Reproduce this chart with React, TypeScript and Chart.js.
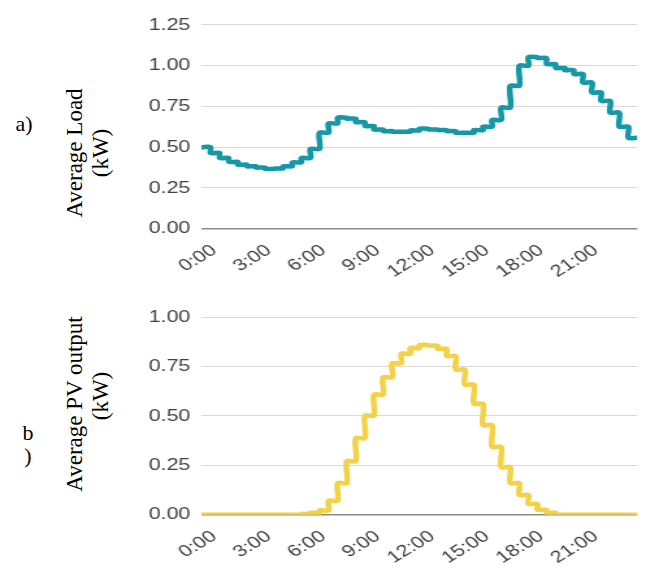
import React, { useEffect, useRef } from 'react';
import { Chart, registerables } from 'chart.js';

Chart.register(...registerables);

// ---------- data ----------
const SLOT_STARTS = [
  0, 0.5, 1, 1.5, 2, 2.5, 3, 3.5, 4, 4.5, 5, 5.5,
  6, 6.5, 7, 7.5, 8, 8.5, 9, 9.5, 10, 10.5, 11, 11.5,
  12, 12.5, 13, 13.5, 14, 14.5, 15, 15.5, 16, 16.5, 17, 17.5,
  18, 18.5, 19, 19.5, 20, 20.5, 21, 21.5, 22, 22.5, 23, 23.5,
];
const SLOT_LEN = 0.5;
const DAY_END = 24;

const X_TICK_HOURS = [0, 3, 6, 9, 12, 15, 18, 21];
const X_TICK_LABELS = ['0:00', '3:00', '6:00', '9:00', '12:00', '15:00', '18:00', '21:00'];

const LOAD_KW = [
  0.5, 0.465, 0.434, 0.41, 0.393, 0.383, 0.375, 0.367, 0.37, 0.383, 0.407, 0.434,
  0.49, 0.589, 0.646, 0.681, 0.675, 0.654, 0.63, 0.609, 0.599, 0.595, 0.595, 0.603,
  0.613, 0.609, 0.605, 0.599, 0.589, 0.589, 0.605, 0.626, 0.667, 0.743, 0.877, 1.0,
  1.052, 1.047, 1.01, 0.986, 0.973, 0.949, 0.897, 0.836, 0.784, 0.712, 0.626, 0.558,
];

const PV_KW = [
  0, 0, 0, 0, 0, 0, 0, 0, 0, 0, 0, 0.004,
  0.01, 0.022, 0.071, 0.16, 0.271, 0.388, 0.502, 0.608, 0.696, 0.767, 0.815, 0.844,
  0.859, 0.856, 0.84, 0.804, 0.735, 0.659, 0.562, 0.454, 0.344, 0.241, 0.16, 0.1,
  0.055, 0.025, 0.01, 0, 0, 0, 0, 0, 0, 0, 0, 0,
];

const LOAD_Y_MAX = 1.25;
const PV_Y_MAX = 1.0;
const Y_STEP = 0.25;

// ---------- layout ----------
const S = 1.3; // horizontal stretch of the chart picture
const Y_AXIS_W = 48;
const LOGICAL_W = 388;
const PLOT_LEFT = 201;
const PLOT_RIGHT = 637;
const CANVAS_LEFT = PLOT_LEFT - Y_AXIS_W * S;
const RIGHT_PAD = LOGICAL_W - Y_AXIS_W - (PLOT_RIGHT - PLOT_LEFT) / S;

const TICK_FONT = { family: '"Liberation Sans", Arial, sans-serif', size: 16.5 };
const TICK_COLOR = '#404040';
const SERIF = '"Liberation Serif", "Times New Roman", serif';

type PanelProps = {
  values: number[];
  color: string;
  yMax: number;
  top: number;
  height: number;
  padTop: number;
  axisH: number;
};

function StepPanel({ values, color, yMax, top, height, padTop, axisH }: PanelProps) {
  const ref = useRef<HTMLCanvasElement>(null);
  useEffect(() => {
    // each half-hour value is held over its slot (start and end point), smoothed like the original
    const points: { x: number; y: number }[] = [];
    values.forEach((v, i) => {
      points.push({ x: SLOT_STARTS[i], y: v });
      points.push({ x: SLOT_STARTS[i] + SLOT_LEN, y: v });
    });
    const chart = new Chart(ref.current as HTMLCanvasElement, {
      type: 'line',
      data: {
        datasets: [
          {
            data: points,
            borderColor: color,
            backgroundColor: color,
            borderWidth: 4.5,
            tension: 0.3,
            pointRadius: 0,
            borderJoinStyle: 'round',
            borderCapStyle: 'butt',
            fill: false,
          },
        ],
      },
      options: {
        responsive: false,
        animation: false,
        devicePixelRatio: 1,
        layout: { padding: { top: padTop, right: RIGHT_PAD, left: 0, bottom: 0 } },
        plugins: { legend: { display: false }, tooltip: { enabled: false } },
        scales: {
          x: {
            type: 'linear',
            min: 0,
            max: DAY_END,
            afterBuildTicks: (s: any) => {
              s.ticks = X_TICK_HOURS.map((v) => ({ value: v }));
            },
            afterFit: (s: any) => {
              s.height = axisH;
            },
            grid: { display: false, drawTicks: false },
            border: { display: false },
            ticks: {
              autoSkip: false,
              minRotation: 38,
              maxRotation: 38,
              padding: 12,
              labelOffset: 10,
              font: TICK_FONT,
              color: TICK_COLOR,
              callback: (v: any) => X_TICK_LABELS[X_TICK_HOURS.indexOf(Number(v))],
            },
          },
          y: {
            min: 0,
            max: yMax,
            afterFit: (s: any) => {
              s.width = Y_AXIS_W;
            },
            grid: {
              color: (ctx: any) => (ctx.tick && ctx.tick.value === 0 ? '#8c8c8c' : '#d9d9d9'),
              lineWidth: (ctx: any) => (ctx.tick && ctx.tick.value === 0 ? 1.6 : 1.1),
              drawTicks: false,
            },
            border: { display: false },
            ticks: {
              stepSize: Y_STEP,
              padding: 8.5,
              font: TICK_FONT,
              color: TICK_COLOR,
              callback: (v: any) => Number(v).toFixed(2),
            },
          },
        },
      },
    } as any);
    return () => chart.destroy();
  }, []);
  return (
    <div
      style={{
        position: 'absolute',
        left: CANVAS_LEFT,
        top,
        width: LOGICAL_W,
        height,
        transform: `scaleX(${S})`,
        transformOrigin: '0 0',
      }}
    >
      <canvas ref={ref} width={LOGICAL_W} height={height} style={{ display: 'block' }} />
    </div>
  );
}

function RotLine({ text, cx, cy }: { text: string; cx: number; cy: number }) {
  return (
    <div
      style={{
        position: 'absolute',
        left: cx - 130,
        top: cy - 13,
        width: 260,
        height: 26,
        lineHeight: '26px',
        fontFamily: SERIF,
        fontSize: 23,
        color: '#000',
        textAlign: 'center',
        whiteSpace: 'nowrap',
        transform: 'rotate(-90deg)',
      }}
    >
      {text}
    </div>
  );
}

function Tag({ text, left, top }: { text: string; left: number; top: number }) {
  return (
    <div
      style={{
        position: 'absolute',
        left,
        top,
        width: 20,
        lineHeight: '22px',
        fontFamily: SERIF,
        fontSize: 22,
        color: '#000',
        textAlign: 'center',
        whiteSpace: 'nowrap',
      }}
    >
      {text}
    </div>
  );
}

export default function App() {
  return (
    <div
      style={{
        position: 'fixed',
        left: 0,
        top: 0,
        width: 646,
        height: 568,
        background: '#fff',
        overflow: 'hidden',
      }}
    >
      <StepPanel values={LOAD_KW} color="#1597a6" yMax={LOAD_Y_MAX} top={0} height={290} padTop={25} axisH={61.3} />
      <StepPanel values={PV_KW} color="#f4d247" yMax={PV_Y_MAX} top={290} height={278} padTop={27.3} axisH={53.3} />

      <Tag text="a)" left={14} top={112.6} />
      <Tag text="b" left={18} top={421.6} />
      <Tag text=")" left={18} top={445} />

      <RotLine text="Average Load" cx={74.5} cy={152.5} />
      <RotLine text="(kW)" cx={100.5} cy={152.5} />
      <RotLine text="Average PV output" cx={74.5} cy={404} />
      <RotLine text="(kW)" cx={100.5} cy={395.5} />
    </div>
  );
}
